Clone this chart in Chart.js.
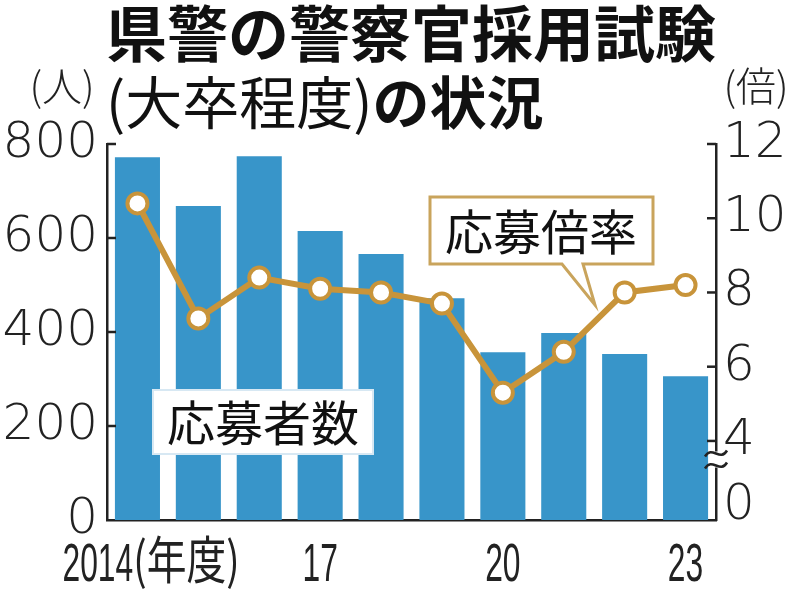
<!DOCTYPE html>
<html>
<head>
<meta charset="utf-8">
<script src="https://cdn.jsdelivr.net/npm/chart.js@4.4.0/dist/chart.umd.min.js"></script>
<style>
  body { margin: 0; background: #fff; }
  #wrap { width: 800px; height: 592px; }
</style>
</head>
<body>
<div id="wrap"><canvas id="chart" width="800" height="592"></canvas></div>
<script>
// du lieu doc tu hinh
const years = ["2014", "2015", "2016", "2017", "2018", "2019", "2020", "2021", "2022", "2023"];
const xLabels = ["2014", "", "", "17", "", "", "20", "", "", "23"];
const xUnit = "(年度)";
const applicants = [772, 668, 774, 615, 566, 472, 357, 398, 353, 306]; // 応募者数 (人)
const ratio = [10.4, 7.3, 8.4, 8.1, 8.0, 7.7, 5.3, 6.4, 8.0, 8.2]; // 応募倍率 (倍)
const leftTicks = [0, 200, 400, 600, 800];
const rightTicks = [4, 6, 8, 10, 12];
const rightBreakMin = 1.87; // truc phai bi cat, day la "0"
const rightZeroAt = 2.25;
const rightBreakAt = 3.5;

const gold = "#c8943a";
const blue = "#3895c9";
const ink = "#222";

const tickFont = { family: "DejaVu Sans", size: 50, weight: "200" };

// ve tieu de, nhan truc x, chu thich
const decorPlugin = {
  id: "decor",
  afterDraw(chart) {
    const ctx = chart.ctx;
    const x = chart.scales.x;
    const y = chart.scales.y;
    const y1 = chart.scales.y1;
    const area = chart.chartArea;

    ctx.save();
    ctx.fillStyle = "#111";
    ctx.textBaseline = "middle";
    ctx.textAlign = "left";

    // tieu de
    ctx.font = "bold 61px 'Noto Sans CJK JP'";
    ctx.fillText("県警の警察官採用試験", 106, 34);
    ctx.font = "400 57px 'Noto Sans CJK JP'";
    ctx.fillText("(大卒程度)", 106, 102);
    const w = ctx.measureText("(大卒程度)").width;
    ctx.font = "bold 57px 'Noto Sans CJK JP'";
    ctx.fillText("の状況", 106 + w, 102);

    // don vi
    ctx.fillStyle = ink;
    ctx.font = "300 40px 'Noto Sans CJK JP'";
    ctx.textAlign = "center";
    ctx.fillText("(人)", 62, 86);
    ctx.fillText("(倍)", 756, 86);

    // tick marks huong vao trong
    ctx.strokeStyle = ink;
    ctx.lineWidth = 2.5;
    leftTicks.forEach((v) => {
      if (v === 0) return;
      const py = y.getPixelForValue(v);
      ctx.beginPath();
      ctx.moveTo(area.left, py);
      ctx.lineTo(area.left + 9, py);
      ctx.stroke();
    });
    rightTicks.forEach((v) => {
      const py = y1.getPixelForValue(v);
      ctx.beginPath();
      ctx.moveTo(area.right, py);
      ctx.lineTo(area.right - 9, py);
      ctx.stroke();
    });

    // ky hieu cat truc phai (≈)
    const by = y1.getPixelForValue(rightBreakAt);
    ctx.fillStyle = "#fff";
    ctx.fillRect(area.right - 4, by - 8, 8, 16);
    ctx.lineWidth = 2.5;
    [-6, 6].forEach((d) => {
      ctx.beginPath();
      ctx.moveTo(area.right - 11, by + d + 3);
      ctx.bezierCurveTo(area.right - 4, by + d - 9, area.right + 4, by + d + 9, area.right + 11, by + d - 3);
      ctx.stroke();
    });

    // nhan truc x (chu hep)
    ctx.fillStyle = ink;
    ctx.font = "53px 'Liberation Sans'";
    ctx.textBaseline = "alphabetic";
    xLabels.forEach((lab, i) => {
      if (!lab) return;
      const px = x.getPixelForValue(i);
      ctx.save();
      if (i === 0) {
        ctx.textAlign = "left";
        ctx.translate(px - 75, 581);
        ctx.scale(0.6, 1);
        ctx.fillText(lab, 0, 0);
        const lw = ctx.measureText(lab).width;
        ctx.translate(lw, 0);
        ctx.scale(0.78 / 0.6, 1);
        ctx.font = "400 51px 'Noto Sans CJK JP'";
        ctx.fillText(xUnit, 0, -2);
      } else {
        ctx.textAlign = "center";
        ctx.translate(px, 581);
        ctx.scale(0.6, 1);
        ctx.fillText(lab, 0, 0);
      }
      ctx.restore();
    });

    // chu thich 応募倍率
    ctx.beginPath();
    ctx.moveTo(430, 197);
    ctx.lineTo(653, 197);
    ctx.lineTo(653, 264);
    ctx.lineTo(583, 264);
    ctx.lineTo(595, 305);
    ctx.lineTo(562, 264);
    ctx.lineTo(430, 264);
    ctx.closePath();
    ctx.fillStyle = "#fff";
    ctx.fill();
    ctx.strokeStyle = "#c9a45c";
    ctx.lineWidth = 3;
    ctx.stroke();

    // chu thich 応募者数
    ctx.fillStyle = "#fff";
    ctx.fillRect(153, 390, 220, 64);
    ctx.strokeStyle = "#d7e8f3";
    ctx.lineWidth = 2;
    ctx.strokeRect(153, 390, 220, 64);

    ctx.fillStyle = "#111";
    ctx.font = "400 48px 'Noto Sans CJK JP'";
    ctx.textAlign = "center";
    ctx.textBaseline = "middle";
    ctx.fillText("応募倍率", 541, 232);
    ctx.fillText("応募者数", 263, 423);
    ctx.restore();
  },
};

const ctx = document.getElementById("chart").getContext("2d");
new Chart(ctx, {
  type: "bar",
  data: {
    labels: years,
    datasets: [
      {
        type: "line",
        label: "応募倍率",
        data: ratio,
        yAxisID: "y1",
        borderColor: gold,
        borderWidth: 6,
        pointRadius: 10,
        pointBorderWidth: 4,
        pointBackgroundColor: "#fff",
        pointBorderColor: gold,
        tension: 0,
        order: 0,
      },
      {
        type: "bar",
        label: "応募者数",
        data: applicants,
        yAxisID: "y",
        backgroundColor: blue,
        barPercentage: 0.74,
        categoryPercentage: 1,
        order: 1,
      },
    ],
  },
  options: {
    responsive: false,
    animation: false,
    layout: { padding: { top: 144, left: 0, right: 0, bottom: 0 } },
    plugins: {
      legend: { display: false },
      tooltip: { enabled: false },
    },
    scales: {
      x: {
        grid: { display: false },
        border: { display: true, color: ink, width: 2.5 },
        ticks: { display: false },
        afterFit: (s) => { s.height = 72; },
      },
      y: {
        position: "left",
        min: 0,
        max: 800,
        grid: { display: false, drawTicks: false },
        border: { display: true, color: ink, width: 2.5 },
        afterBuildTicks: (s) => { s.ticks = leftTicks.map((v) => ({ value: v })); },
        ticks: { color: ink, font: tickFont, padding: 9, autoSkip: false },
        afterFit: (s) => { s.width = 107; },
      },
      y1: {
        position: "right",
        min: rightBreakMin,
        max: 12,
        grid: { display: false, drawTicks: false },
        border: { display: true, color: ink, width: 2.5 },
        afterBuildTicks: (s) => {
          s.ticks = [rightZeroAt].concat(rightTicks).map((v) => ({ value: v }));
        },
        ticks: {
          color: ink,
          font: tickFont,
          padding: 7,
          autoSkip: false,
          callback: (v) => (v === rightZeroAt ? "0" : v),
        },
        afterFit: (s) => { s.width = 84; },
      },
    },
  },
  plugins: [decorPlugin],
});
</script>
</body>
</html>
